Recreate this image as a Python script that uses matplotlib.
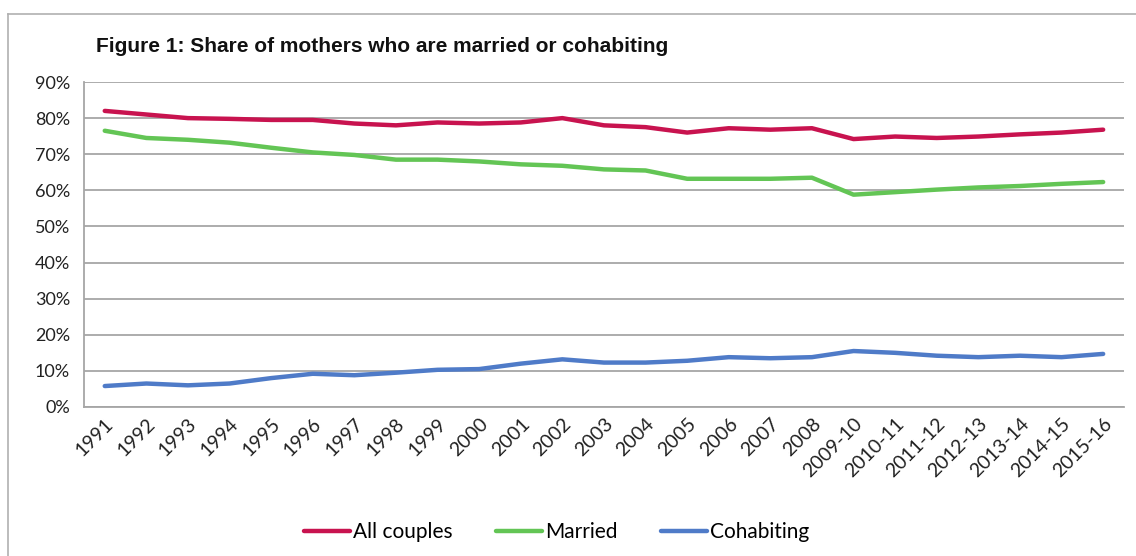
import matplotlib
matplotlib.use("Agg")
import matplotlib.pyplot as plt
from matplotlib.lines import Line2D
from matplotlib.ticker import PercentFormatter

# Categories (survey years)
years = ['1991', '1992', '1993', '1994', '1995', '1996', '1997', '1998', '1999',
         '2000', '2001', '2002', '2003', '2004', '2005', '2006', '2007', '2008',
         '2009-10', '2010-11', '2011-12', '2012-13', '2013-14', '2014-15', '2015-16']

# Share of mothers (%)
all_couples = [82.0, 81.0, 80.0, 79.8, 79.5, 79.5, 78.5, 78.0, 78.8, 78.5, 78.8, 80.0,
               78.0, 77.5, 76.0, 77.2, 76.8, 77.2, 74.2, 74.9, 74.5, 74.9, 75.5, 76.0, 76.8]
married = [76.5, 74.5, 74.0, 73.2, 71.8, 70.5, 69.8, 68.5, 68.5, 68.0, 67.2, 66.8,
           65.8, 65.5, 63.2, 63.2, 63.2, 63.5, 58.8, 59.5, 60.2, 60.8, 61.2, 61.8, 62.3]
cohabiting = [5.8, 6.5, 6.0, 6.5, 8.0, 9.2, 8.8, 9.5, 10.3, 10.5, 12.0, 13.2,
              12.3, 12.3, 12.8, 13.8, 13.5, 13.8, 15.5, 15.0, 14.2, 13.8, 14.2, 13.8, 14.7]

yticks = [0, 10, 20, 30, 40, 50, 60, 70, 80, 90]

plt.rcParams['font.family'] = ['Lato', 'DejaVu Sans']

fig = plt.figure(figsize=(11.36, 5.56), dpi=100)
ax = fig.add_axes([0.0739, 0.268, 0.9155, 0.5845])

ax.plot(years, all_couples, color='#C8134F', lw=3.2, label='All couples', solid_capstyle='round')
ax.plot(years, married, color='#63C555', lw=3.2, label='Married', solid_capstyle='round')
ax.plot(years, cohabiting, color='#4F7BC8', lw=3.2, label='Cohabiting', solid_capstyle='round')

ax.set_xlim(-0.5, len(years) - 0.5)
ax.set_ylim(0, 90)
ax.set_yticks(yticks)
ax.yaxis.set_major_formatter(PercentFormatter(decimals=0))
ax.grid(axis='y', color='#A6A6A6', lw=1.3)
ax.set_axisbelow(True)

for s in ['top', 'right']:
    ax.spines[s].set_visible(False)
for s in ['left', 'bottom']:
    ax.spines[s].set_color('#A6A6A6')
    ax.spines[s].set_linewidth(1.3)

ax.tick_params(axis='both', length=0, colors='#222222')
ax.tick_params(axis='y', pad=10, labelsize=13)
ax.tick_params(axis='x', pad=6, labelsize=14)
plt.setp(ax.get_xticklabels(), rotation=45, ha='right', va='top', rotation_mode='anchor')

fig.text(0.0845, 0.917, 'Figure 1: Share of mothers who are married or cohabiting',
         fontsize=15, fontweight='bold', va='center', ha='left',
         family=['Liberation Sans', 'DejaVu Sans'], color='#111111')

# outer chart frame (only left and top edges visible)
fig.add_artist(Line2D([0.007, 0.007], [0, 0.975], transform=fig.transFigure, color='#B0B0B0', lw=1.2))
fig.add_artist(Line2D([0.007, 1.0], [0.975, 0.975], transform=fig.transFigure, color='#B0B0B0', lw=1.2))

fig.legend(loc='center', bbox_to_anchor=(0.49, 0.043), ncol=3, frameon=False,
           fontsize=15, handlelength=2.2, handletextpad=0.15, columnspacing=2.1)

fig.savefig('out.png', dpi=100)
